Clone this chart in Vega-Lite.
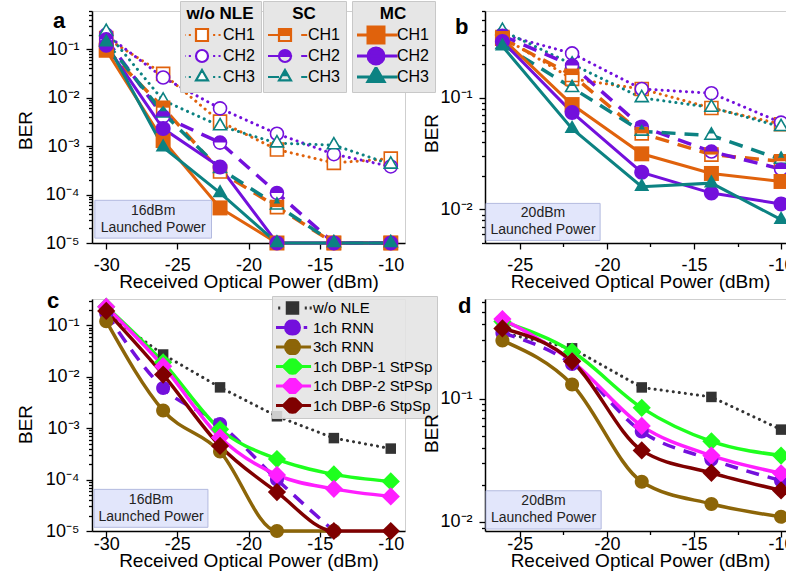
{
"$schema": "https://vega.github.io/schema/vega-lite/v6.json",
"background": "white",
"padding": {"left": 15, "top": 0, "right": 0, "bottom": 0},
"bounds": "flush",
"columns": 2,
"spacing": {"row": 56, "column": 80},
"resolve": {"scale": {"color": "independent", "shape": "independent", "fill": "independent", "stroke": "independent"}},
"config": {
  "font": "Liberation Sans",
  "view": {"stroke": "#cfcfcf"},
  "axis": {"labelFont": "Liberation Sans", "labelFontSize": 18, "labelColor": "#000", "titleFont": "Liberation Sans", "titleFontSize": 19, "titleFontWeight": "normal", "titleColor": "#000", "domainColor": "#000", "domainWidth": 1.5, "tickColor": "#000", "tickWidth": 1.3, "gridWidth": 1, "labelOverlap": false, "labelFlush": false, "labelBound": false},
  "legend": {"labelFont": "Liberation Sans", "titleFont": "Liberation Sans", "labelColor": "#000", "titleColor": "#000"}
},
"datasets": {
  "a": [
    {"group":"w/o NLE","ch":"CH1","power":-30,"ber":0.17},{"group":"w/o NLE","ch":"CH1","power":-26,"ber":0.031},{"group":"w/o NLE","ch":"CH1","power":-22,"ber":0.0032},{"group":"w/o NLE","ch":"CH1","power":-18,"ber":0.00085},{"group":"w/o NLE","ch":"CH1","power":-14,"ber":0.00045},{"group":"w/o NLE","ch":"CH1","power":-10,"ber":0.00055},
    {"group":"w/o NLE","ch":"CH2","power":-30,"ber":0.2},{"group":"w/o NLE","ch":"CH2","power":-26,"ber":0.026},{"group":"w/o NLE","ch":"CH2","power":-22,"ber":0.006},{"group":"w/o NLE","ch":"CH2","power":-18,"ber":0.0018},{"group":"w/o NLE","ch":"CH2","power":-14,"ber":0.00068},{"group":"w/o NLE","ch":"CH2","power":-10,"ber":0.00038},
    {"group":"w/o NLE","ch":"CH3","power":-30,"ber":0.23},{"group":"w/o NLE","ch":"CH3","power":-26,"ber":0.0088},{"group":"w/o NLE","ch":"CH3","power":-22,"ber":0.0026},{"group":"w/o NLE","ch":"CH3","power":-18,"ber":0.00115},{"group":"w/o NLE","ch":"CH3","power":-14,"ber":0.00105},{"group":"w/o NLE","ch":"CH3","power":-10,"ber":0.00042},
    {"group":"SC","ch":"CH1","power":-30,"ber":0.1},{"group":"SC","ch":"CH1","power":-26,"ber":0.0062},{"group":"SC","ch":"CH1","power":-22,"ber":0.0003},{"group":"SC","ch":"CH1","power":-18,"ber":0.000055},{"group":"SC","ch":"CH1","power":-14,"ber":0.00001},{"group":"SC","ch":"CH1","power":-10,"ber":0.00001},
    {"group":"SC","ch":"CH2","power":-30,"ber":0.16},{"group":"SC","ch":"CH2","power":-26,"ber":0.0041},{"group":"SC","ch":"CH2","power":-22,"ber":0.00118},{"group":"SC","ch":"CH2","power":-18,"ber":0.000108},{"group":"SC","ch":"CH2","power":-14,"ber":0.00001},{"group":"SC","ch":"CH2","power":-10,"ber":0.00001},
    {"group":"SC","ch":"CH3","power":-30,"ber":0.14},{"group":"SC","ch":"CH3","power":-26,"ber":0.0048},{"group":"SC","ch":"CH3","power":-22,"ber":0.00034},{"group":"SC","ch":"CH3","power":-18,"ber":0.00006},{"group":"SC","ch":"CH3","power":-14,"ber":0.00001},{"group":"SC","ch":"CH3","power":-10,"ber":0.00001},
    {"group":"MC","ch":"CH1","power":-30,"ber":0.095},{"group":"MC","ch":"CH1","power":-26,"ber":0.0013},{"group":"MC","ch":"CH1","power":-22,"ber":0.000053},{"group":"MC","ch":"CH1","power":-18,"ber":0.00001},{"group":"MC","ch":"CH1","power":-14,"ber":0.00001},{"group":"MC","ch":"CH1","power":-10,"ber":0.00001},
    {"group":"MC","ch":"CH2","power":-30,"ber":0.12},{"group":"MC","ch":"CH2","power":-26,"ber":0.0023},{"group":"MC","ch":"CH2","power":-22,"ber":0.00037},{"group":"MC","ch":"CH2","power":-18,"ber":0.00001},{"group":"MC","ch":"CH2","power":-14,"ber":0.00001},{"group":"MC","ch":"CH2","power":-10,"ber":0.00001},
    {"group":"MC","ch":"CH3","power":-30,"ber":0.14},{"group":"MC","ch":"CH3","power":-26,"ber":0.00095},{"group":"MC","ch":"CH3","power":-22,"ber":0.000108},{"group":"MC","ch":"CH3","power":-18,"ber":0.00001},{"group":"MC","ch":"CH3","power":-14,"ber":0.00001},{"group":"MC","ch":"CH3","power":-10,"ber":0.00001}
  ],
  "b": [
    {"group":"w/o NLE","ch":"CH1","power":-26,"ber":0.35},{"group":"w/o NLE","ch":"CH1","power":-22,"ber":0.148},{"group":"w/o NLE","ch":"CH1","power":-18,"ber":0.12},{"group":"w/o NLE","ch":"CH1","power":-14,"ber":0.081},{"group":"w/o NLE","ch":"CH1","power":-10,"ber":0.058},
    {"group":"w/o NLE","ch":"CH2","power":-26,"ber":0.37},{"group":"w/o NLE","ch":"CH2","power":-22,"ber":0.25},{"group":"w/o NLE","ch":"CH2","power":-18,"ber":0.12},{"group":"w/o NLE","ch":"CH2","power":-14,"ber":0.11},{"group":"w/o NLE","ch":"CH2","power":-10,"ber":0.06},
    {"group":"w/o NLE","ch":"CH3","power":-26,"ber":0.4},{"group":"w/o NLE","ch":"CH3","power":-22,"ber":0.2},{"group":"w/o NLE","ch":"CH3","power":-18,"ber":0.1},{"group":"w/o NLE","ch":"CH3","power":-14,"ber":0.082},{"group":"w/o NLE","ch":"CH3","power":-10,"ber":0.055},
    {"group":"SC","ch":"CH1","power":-26,"ber":0.34},{"group":"SC","ch":"CH1","power":-22,"ber":0.16},{"group":"SC","ch":"CH1","power":-18,"ber":0.048},{"group":"SC","ch":"CH1","power":-14,"ber":0.031},{"group":"SC","ch":"CH1","power":-10,"ber":0.027},
    {"group":"SC","ch":"CH2","power":-26,"ber":0.36},{"group":"SC","ch":"CH2","power":-22,"ber":0.195},{"group":"SC","ch":"CH2","power":-18,"ber":0.055},{"group":"SC","ch":"CH2","power":-14,"ber":0.033},{"group":"SC","ch":"CH2","power":-10,"ber":0.023},
    {"group":"SC","ch":"CH3","power":-26,"ber":0.3},{"group":"SC","ch":"CH3","power":-22,"ber":0.123},{"group":"SC","ch":"CH3","power":-18,"ber":0.05},{"group":"SC","ch":"CH3","power":-14,"ber":0.046},{"group":"SC","ch":"CH3","power":-10,"ber":0.028},
    {"group":"MC","ch":"CH1","power":-26,"ber":0.34},{"group":"MC","ch":"CH1","power":-22,"ber":0.087},{"group":"MC","ch":"CH1","power":-18,"ber":0.0315},{"group":"MC","ch":"CH1","power":-14,"ber":0.021},{"group":"MC","ch":"CH1","power":-10,"ber":0.0178},
    {"group":"MC","ch":"CH2","power":-26,"ber":0.32},{"group":"MC","ch":"CH2","power":-22,"ber":0.074},{"group":"MC","ch":"CH2","power":-18,"ber":0.0215},{"group":"MC","ch":"CH2","power":-14,"ber":0.014},{"group":"MC","ch":"CH2","power":-10,"ber":0.0112},
    {"group":"MC","ch":"CH3","power":-26,"ber":0.29},{"group":"MC","ch":"CH3","power":-22,"ber":0.053},{"group":"MC","ch":"CH3","power":-18,"ber":0.016},{"group":"MC","ch":"CH3","power":-14,"ber":0.0172},{"group":"MC","ch":"CH3","power":-10,"ber":0.0081}
  ],
  "c": [
    {"series":"w/o NLE","power":-30,"ber":0.17},{"series":"w/o NLE","power":-26,"ber":0.027},{"series":"w/o NLE","power":-22,"ber":0.0062},{"series":"w/o NLE","power":-18,"ber":0.0017},{"series":"w/o NLE","power":-14,"ber":0.00064},{"series":"w/o NLE","power":-10,"ber":0.0004},
    {"series":"1ch RNN","power":-30,"ber":0.17},{"series":"1ch RNN","power":-26,"ber":0.006},{"series":"1ch RNN","power":-22,"ber":0.0012},{"series":"1ch RNN","power":-18,"ber":0.0001},{"series":"1ch RNN","power":-14,"ber":0.00001},
    {"series":"3ch RNN","power":-30,"ber":0.12},{"series":"3ch RNN","power":-26,"ber":0.0022},{"series":"3ch RNN","power":-22,"ber":0.00035},{"series":"3ch RNN","power":-18,"ber":0.00001},{"series":"3ch RNN","power":-14,"ber":0.00001},
    {"series":"1ch DBP-1 StPSp","power":-30,"ber":0.23},{"series":"1ch DBP-1 StPSp","power":-26,"ber":0.019},{"series":"1ch DBP-1 StPSp","power":-22,"ber":0.00095},{"series":"1ch DBP-1 StPSp","power":-18,"ber":0.00025},{"series":"1ch DBP-1 StPSp","power":-14,"ber":0.000126},{"series":"1ch DBP-1 StPSp","power":-10,"ber":0.000092},
    {"series":"1ch DBP-2 StPSp","power":-30,"ber":0.23},{"series":"1ch DBP-2 StPSp","power":-26,"ber":0.016},{"series":"1ch DBP-2 StPSp","power":-22,"ber":0.00066},{"series":"1ch DBP-2 StPSp","power":-18,"ber":0.000123},{"series":"1ch DBP-2 StPSp","power":-14,"ber":0.000066},{"series":"1ch DBP-2 StPSp","power":-10,"ber":0.000047},
    {"series":"1ch DBP-6 StpSp","power":-30,"ber":0.19},{"series":"1ch DBP-6 StpSp","power":-26,"ber":0.011},{"series":"1ch DBP-6 StpSp","power":-22,"ber":0.00045},{"series":"1ch DBP-6 StpSp","power":-18,"ber":0.000057},{"series":"1ch DBP-6 StpSp","power":-14,"ber":0.00001},{"series":"1ch DBP-6 StpSp","power":-10,"ber":0.00001}
  ],
  "d": [
    {"series":"w/o NLE","power":-26,"ber":0.34},{"series":"w/o NLE","power":-22,"ber":0.255},{"series":"w/o NLE","power":-18,"ber":0.123},{"series":"w/o NLE","power":-14,"ber":0.103},{"series":"w/o NLE","power":-10,"ber":0.056},
    {"series":"1ch RNN","power":-26,"ber":0.34},{"series":"1ch RNN","power":-22,"ber":0.19},{"series":"1ch RNN","power":-18,"ber":0.054},{"series":"1ch RNN","power":-14,"ber":0.032},{"series":"1ch RNN","power":-10,"ber":0.0216},
    {"series":"3ch RNN","power":-26,"ber":0.295},{"series":"3ch RNN","power":-22,"ber":0.13},{"series":"3ch RNN","power":-18,"ber":0.0212},{"series":"3ch RNN","power":-14,"ber":0.014},{"series":"3ch RNN","power":-10,"ber":0.011},
    {"series":"1ch DBP-1 StPSp","power":-26,"ber":0.42},{"series":"1ch DBP-1 StPSp","power":-22,"ber":0.24},{"series":"1ch DBP-1 StPSp","power":-18,"ber":0.084},{"series":"1ch DBP-1 StPSp","power":-14,"ber":0.045},{"series":"1ch DBP-1 StPSp","power":-10,"ber":0.0345},
    {"series":"1ch DBP-2 StPSp","power":-26,"ber":0.44},{"series":"1ch DBP-2 StPSp","power":-22,"ber":0.2},{"series":"1ch DBP-2 StPSp","power":-18,"ber":0.06},{"series":"1ch DBP-2 StPSp","power":-14,"ber":0.0345},{"series":"1ch DBP-2 StPSp","power":-10,"ber":0.0248},
    {"series":"1ch DBP-6 StpSp","power":-26,"ber":0.37},{"series":"1ch DBP-6 StpSp","power":-22,"ber":0.2},{"series":"1ch DBP-6 StpSp","power":-18,"ber":0.038},{"series":"1ch DBP-6 StpSp","power":-14,"ber":0.025},{"series":"1ch DBP-6 StpSp","power":-10,"ber":0.018}
  ]
},
"concat": [
  {
   "width": 313, "height": 232,
   "resolve": {"scale": {"color": "independent", "shape": "independent", "fill": "independent", "stroke": "independent"}},
   "layer": [
    {"data": {"values": [{"note": "annotation"}]}, "mark": {"type": "rect", "fill": "#e2e6fb", "stroke": "#b3badf", "strokeWidth": 1},
     "encoding": {"x": {"datum": -30.8, "type": "quantitative", "scale": {"domain": [-31, -9], "nice": false, "zero": false}, "title": "Received Optical Power (dBm)"}, "x2": {"datum": -22.6}, "y": {"datum": 0.000076, "type": "quantitative", "scale": {"type": "log", "domain": [0.00001, 0.614], "nice": false}, "title": "BER"}, "y2": {"datum": 0.0000126}}},
    {"data": {"values": [{"note": "annotation"}]}, "mark": {"type": "text", "text": ["16dBm", "Launched Power"], "fontSize": 14, "lineHeight": 17, "font": "Liberation Sans", "color": "#222", "baseline": "middle", "align": "center"},
     "encoding": {"x": {"datum": -26.7, "type": "quantitative", "scale": {"domain": [-31, -9], "nice": false, "zero": false}, "title": "Received Optical Power (dBm)"}, "y": {"datum": 0.0000462, "type": "quantitative", "scale": {"type": "log", "domain": [0.00001, 0.614], "nice": false}, "title": "BER"}}},
    {"data": {"values": [{"note": "panel"}]}, "mark": {"type": "text", "text": "a", "fontSize": 22, "fontWeight": "bold", "font": "Liberation Sans", "color": "#000", "baseline": "alphabetic", "align": "left"},
     "encoding": {"x": {"datum": -33.74, "type": "quantitative", "scale": {"domain": [-31, -9], "nice": false, "zero": false}, "title": "Received Optical Power (dBm)"}, "y": {"datum": 0.274, "type": "quantitative", "scale": {"type": "log", "domain": [0.00001, 0.614], "nice": false}, "title": "BER"}}},
    {
     "data": {"name": "a"},
     "encoding": {
      "x": {"field": "power", "type": "quantitative", "scale": {"domain": [-31, -9], "nice": false, "zero": false},
        "axis": {"title": "Received Optical Power (dBm)", "values": [-30,-27.5,-25,-22.5,-20,-17.5,-15,-12.5,-10], "labelExpr": "datum.value % 5 == 0 ? '' + datum.value : ''", "tickSize": {"condition": {"test": "datum.value % 5 == 0", "value": 6}, "value": 3.5}, "gridDash": {"condition": {"test": "datum.value % 5 == 0", "value": []}, "value": [3,3]}, "gridColor": {"condition": {"test": "datum.value % 5 == 0", "value": "#b8b8b8"}, "value": "#e2e2e2"}, "labelPadding": 7, "titlePadding": -2}},
      "y": {"field": "ber", "type": "quantitative", "scale": {"type": "log", "domain": [0.00001, 0.614], "nice": false},
        "axis": {"title": "BER", "titleY": 119, "values": [0.00001,0.00002,0.00003,0.00004,0.00005,0.00006,0.00007,0.00008,0.00009,0.0001,0.0002,0.0003,0.0004,0.0005,0.0006,0.0007,0.0008,0.0009,0.001,0.002,0.003,0.004,0.005,0.006,0.007,0.008,0.009,0.01,0.02,0.03,0.04,0.05,0.06,0.07,0.08,0.09,0.1,0.2,0.3,0.4,0.5,0.6],
          "labelExpr": "datum.value == 0.1 ? '10⁻¹' : datum.value == 0.01 ? '10⁻²' : datum.value == 0.001 ? '10⁻³' : datum.value == 0.0001 ? '10⁻⁴' : datum.value == 0.00001 ? '10⁻⁵' : ''",
          "tickSize": {"condition": {"test": "indexof([0.1,0.01,0.001,0.0001,0.00001], datum.value) >= 0", "value": 6}, "value": 3.5},
          "gridDash": {"condition": {"test": "indexof([0.1,0.01,0.001,0.0001,0.00001], datum.value) >= 0", "value": []}, "value": [3,3]},
          "gridColor": {"condition": {"test": "indexof([0.1,0.01,0.001,0.0001,0.00001], datum.value) >= 0", "value": "#b8b8b8"}, "value": "#e2e2e2"},
          "labelPadding": 7, "titlePadding": 10}}
     },
     "layer": [
      {"transform": [{"filter": "datum.group == 'w/o NLE'"}], "mark": {"type": "line", "strokeDash": [0.1, 6], "strokeCap": "round", "strokeWidth": 3}, "encoding": {"color": {"field": "ch", "type": "nominal", "scale": {"domain": ["CH1","CH2","CH3"], "range": ["#E0620C","#7310DC","#0C8282"]}, "legend": null}}},
      {"transform": [{"filter": "datum.group == 'SC'"}], "mark": {"type": "line", "strokeDash": [14, 9], "strokeWidth": 3.5}, "encoding": {"color": {"field": "ch", "type": "nominal", "scale": {"domain": ["CH1","CH2","CH3"], "range": ["#E0620C","#7310DC","#0C8282"]}, "legend": null}}},
      {"transform": [{"filter": "datum.group == 'MC'"}], "mark": {"type": "line", "strokeWidth": 3}, "encoding": {"color": {"field": "ch", "type": "nominal", "scale": {"domain": ["CH1","CH2","CH3"], "range": ["#E0620C","#7310DC","#0C8282"]}, "legend": null}}},
      {"transform": [{"filter": "datum.group == 'w/o NLE'"}], "mark": {"type": "point", "fill": "white", "strokeWidth": 1.6, "opacity": 1, "size": 169}, "encoding": {"color": {"field": "ch", "type": "nominal", "scale": {"domain": ["CH1","CH2","CH3"], "range": ["#E0620C","#7310DC","#0C8282"]}, "legend": null}, "shape": {"field": "ch", "type": "nominal", "scale": {"domain": ["CH1","CH2","CH3"], "range": ["M-1,-1H1V1H-1Z","M-1,0A1,1 0 1 1 1,0A1,1 0 1 1 -1,0Z","M0,-1.155L1,0.577H-1Z"]}, "legend": null}}},
      {"transform": [{"filter": "datum.group == 'SC'"}], "mark": {"type": "point", "fill": "white", "strokeWidth": 1.6, "opacity": 1, "size": 169}, "encoding": {"color": {"field": "ch", "type": "nominal", "scale": {"domain": ["CH1","CH2","CH3"], "range": ["#E0620C","#7310DC","#0C8282"]}, "legend": null}, "shape": {"field": "ch", "type": "nominal", "scale": {"domain": ["CH1","CH2","CH3"], "range": ["M-1,-1H1V1H-1Z","M-1,0A1,1 0 1 1 1,0A1,1 0 1 1 -1,0Z","M0,-1.155L1,0.577H-1Z"]}, "legend": null}}},
      {"transform": [{"filter": "datum.group == 'SC'"}], "mark": {"type": "point", "filled": true, "strokeWidth": 0, "opacity": 1, "size": 169}, "encoding": {"color": {"field": "ch", "type": "nominal", "scale": {"domain": ["CH1","CH2","CH3"], "range": ["#E0620C","#7310DC","#0C8282"]}, "legend": null}, "shape": {"field": "ch", "type": "nominal", "scale": {"domain": ["CH1","CH2","CH3"], "range": ["M-1,-1H1V0H-1Z","M-1,0A1,1 0 0 1 1,0Z","M0,-1.155L0.5,-0.289H-0.5Z"]}, "legend": null}}},
      {"transform": [{"filter": "datum.group == 'MC'"}], "mark": {"type": "point", "filled": true, "opacity": 1, "size": 225}, "encoding": {"color": {"field": "ch", "type": "nominal", "scale": {"domain": ["CH1","CH2","CH3"], "range": ["#E0620C","#7310DC","#0C8282"]}, "legend": null}, "shape": {"field": "ch", "type": "nominal", "scale": {"domain": ["CH1","CH2","CH3"], "range": ["M-1,-1H1V1H-1Z","M-1,0A1,1 0 1 1 1,0A1,1 0 1 1 -1,0Z","M0,-1.155L1,0.577H-1Z"]}, "legend": null}}},
      {"transform": [{"filter": "datum.group == 'w/o NLE'"}], "mark": {"type": "point", "fill": "white", "opacity": 0, "size": 144, "strokeWidth": 2.2},
       "encoding": {
        "stroke": {"field": "ch", "type": "nominal", "scale": {"domain": ["CH1","CH2","CH3"], "range": ["#E0620C","#7310DC","#0C8282"]},
          "legend": {"title": "w/o NLE", "orient": "none", "legendX": 88, "legendY": -10, "titleAnchor": "middle", "titleFontSize": 17, "titleFontWeight": "bold", "titlePadding": 2, "labelFontSize": 16, "fillColor": "#e6e6e6", "strokeColor": "#c8c8c8", "padding": 5, "rowPadding": 1, "clipHeight": 20, "symbolSize": 144, "symbolStrokeWidth": 2.2, "symbolOffset": 9, "labelOffset": 13, "symbolOpacity": 1}},
        "shape": {"field": "ch", "type": "nominal", "scale": {"domain": ["CH1","CH2","CH3"], "range": ["M-3.1,0h0.35M-2.2,0h0.35M1.85,0h0.35M2.75,0h0.35M-1,-1H1V1H-1Z","M-3.1,0h0.35M-2.2,0h0.35M1.85,0h0.35M2.75,0h0.35M-1,0A1,1 0 1 1 1,0A1,1 0 1 1 -1,0Z","M-3.1,0h0.35M-2.2,0h0.35M1.85,0h0.35M2.75,0h0.35M0,-1.155L1,0.577H-1Z"]},
          "legend": {"title": "w/o NLE", "orient": "none", "legendX": 88, "legendY": -10, "titleAnchor": "middle", "titleFontSize": 17, "titleFontWeight": "bold", "titlePadding": 2, "labelFontSize": 16, "fillColor": "#e6e6e6", "strokeColor": "#c8c8c8", "padding": 5, "rowPadding": 1, "clipHeight": 20, "symbolSize": 144, "symbolStrokeWidth": 2.2, "symbolOffset": 9, "labelOffset": 13, "symbolOpacity": 1}}
       }},
      {"transform": [{"filter": "datum.group == 'SC'"}], "mark": {"type": "point", "filled": true, "opacity": 0, "size": 144, "strokeWidth": 2.2},
       "encoding": {
        "fill": {"field": "ch", "type": "nominal", "scale": {"domain": ["CH1","CH2","CH3"], "range": ["#E0620C","#7310DC","#0C8282"]},
          "legend": {"title": "SC", "orient": "none", "legendX": 171, "legendY": -10, "titleAnchor": "middle", "titleFontSize": 17, "titleFontWeight": "bold", "titlePadding": 2, "labelFontSize": 16, "fillColor": "#e6e6e6", "strokeColor": "#c8c8c8", "padding": 5, "rowPadding": 1, "clipHeight": 20, "symbolSize": 144, "symbolStrokeWidth": 2.2, "symbolOffset": 9, "labelOffset": 15, "symbolOpacity": 1}},
        "stroke": {"field": "ch", "type": "nominal", "scale": {"domain": ["CH1","CH2","CH3"], "range": ["#E0620C","#7310DC","#0C8282"]},
          "legend": {"title": "SC", "orient": "none", "legendX": 171, "legendY": -10, "titleAnchor": "middle", "titleFontSize": 17, "titleFontWeight": "bold", "titlePadding": 2, "labelFontSize": 16, "fillColor": "#e6e6e6", "strokeColor": "#c8c8c8", "padding": 5, "rowPadding": 1, "clipHeight": 20, "symbolSize": 144, "symbolStrokeWidth": 2.2, "symbolOffset": 9, "labelOffset": 15, "symbolOpacity": 1}},
        "shape": {"field": "ch", "type": "nominal", "scale": {"domain": ["CH1","CH2","CH3"], "range": ["M-3,0H-1M2.7,0H3.7M-1,-1H1V0H-1ZM-1,0H1V1H-1ZM-1,0V1H1V0Z","M-3,0H-1M2.7,0H3.7M-1,0A1,1 0 0 1 1,0ZM-1,0A1,1 0 0 0 1,0ZM1,0A1,1 0 0 1 -1,0Z","M-3,0H-1M2.7,0H3.7M0,-1.155L0.5,-0.289H-0.5ZM-0.5,-0.289H0.5L1,0.577H-1ZM-0.5,-0.289L-1,0.577H1L0.5,-0.289Z"]},
          "legend": {"title": "SC", "orient": "none", "legendX": 171, "legendY": -10, "titleAnchor": "middle", "titleFontSize": 17, "titleFontWeight": "bold", "titlePadding": 2, "labelFontSize": 16, "fillColor": "#e6e6e6", "strokeColor": "#c8c8c8", "padding": 5, "rowPadding": 1, "clipHeight": 20, "symbolSize": 144, "symbolStrokeWidth": 2.2, "symbolOffset": 9, "labelOffset": 15, "symbolOpacity": 1}}
       }},
      {"transform": [{"filter": "datum.group == 'MC'"}], "mark": {"type": "point", "filled": true, "opacity": 0, "size": 256, "strokeWidth": 3},
       "encoding": {
        "fill": {"field": "ch", "type": "nominal", "scale": {"domain": ["CH1","CH2","CH3"], "range": ["#E0620C","#7310DC","#0C8282"]},
          "legend": {"title": "MC", "orient": "none", "legendX": 260, "legendY": -10, "titleAnchor": "middle", "titleFontSize": 17, "titleFontWeight": "bold", "titlePadding": 2, "labelFontSize": 16, "fillColor": "#e6e6e6", "strokeColor": "#c8c8c8", "padding": 5, "rowPadding": 1, "clipHeight": 20, "symbolSize": 256, "symbolStrokeWidth": 3, "symbolOffset": 9.5, "labelOffset": 11.5, "symbolOpacity": 1}},
        "stroke": {"field": "ch", "type": "nominal", "scale": {"domain": ["CH1","CH2","CH3"], "range": ["#E0620C","#7310DC","#0C8282"]},
          "legend": {"title": "MC", "orient": "none", "legendX": 260, "legendY": -10, "titleAnchor": "middle", "titleFontSize": 17, "titleFontWeight": "bold", "titlePadding": 2, "labelFontSize": 16, "fillColor": "#e6e6e6", "strokeColor": "#c8c8c8", "padding": 5, "rowPadding": 1, "clipHeight": 20, "symbolSize": 256, "symbolStrokeWidth": 3, "symbolOffset": 9.5, "labelOffset": 11.5, "symbolOpacity": 1}},
        "shape": {"field": "ch", "type": "nominal", "scale": {"domain": ["CH1","CH2","CH3"], "range": ["M-2.7,0H2.7M-1,-1H1V1H-1Z","M-2.7,0H2.7M-1,0A1,1 0 1 1 1,0A1,1 0 1 1 -1,0Z","M-2.7,0H2.7M0,-1.155L1,0.577H-1Z"]},
          "legend": {"title": "MC", "orient": "none", "legendX": 260, "legendY": -10, "titleAnchor": "middle", "titleFontSize": 17, "titleFontWeight": "bold", "titlePadding": 2, "labelFontSize": 16, "fillColor": "#e6e6e6", "strokeColor": "#c8c8c8", "padding": 5, "rowPadding": 1, "clipHeight": 20, "symbolSize": 256, "symbolStrokeWidth": 3, "symbolOffset": 9.5, "labelOffset": 11.5, "symbolOpacity": 1}}
       }}
     ],
     "resolve": {"scale": {"shape": "independent", "fill": "independent", "stroke": "independent"}}
    }
   ]
  },
  {
   "width": 310, "height": 232,
   "resolve": {"scale": {"color": "independent", "shape": "independent"}},
   "layer": [
    {"data": {"values": [{"note": "annotation"}]}, "mark": {"type": "rect", "fill": "#e2e6fb", "stroke": "#b3badf", "strokeWidth": 1},
     "encoding": {"x": {"datum": -26.94, "type": "quantitative", "scale": {"domain": [-27, -9.2], "nice": false, "zero": false}, "title": "Received Optical Power (dBm)"}, "x2": {"datum": -20.39}, "y": {"datum": 0.01132, "type": "quantitative", "scale": {"type": "log", "domain": [0.005, 0.6], "nice": false}, "title": "BER"}, "y2": {"datum": 0.00527}}},
    {"data": {"values": [{"note": "annotation"}]}, "mark": {"type": "text", "text": ["20dBm", "Launched Power"], "fontSize": 14, "lineHeight": 17, "font": "Liberation Sans", "color": "#222", "baseline": "middle", "align": "center"},
     "encoding": {"x": {"datum": -23.67, "type": "quantitative", "scale": {"domain": [-27, -9.2], "nice": false, "zero": false}, "title": "Received Optical Power (dBm)"}, "y": {"datum": 0.0092, "type": "quantitative", "scale": {"type": "log", "domain": [0.005, 0.6], "nice": false}, "title": "BER"}}},
    {"data": {"values": [{"note": "panel"}]}, "mark": {"type": "text", "text": "b", "fontSize": 22, "fontWeight": "bold", "font": "Liberation Sans", "color": "#000", "baseline": "alphabetic", "align": "left"},
     "encoding": {"x": {"datum": -28.72, "type": "quantitative", "scale": {"domain": [-27, -9.2], "nice": false, "zero": false}, "title": "Received Optical Power (dBm)"}, "y": {"datum": 0.373, "type": "quantitative", "scale": {"type": "log", "domain": [0.005, 0.6], "nice": false}, "title": "BER"}}},
    {
     "data": {"name": "b"},
     "encoding": {
      "x": {"field": "power", "type": "quantitative", "scale": {"domain": [-27, -9.2], "nice": false, "zero": false},
        "axis": {"title": "Received Optical Power (dBm)", "values": [-25,-22.5,-20,-17.5,-15,-12.5,-10], "labelExpr": "datum.value % 5 == 0 ? '' + datum.value : ''", "tickSize": {"condition": {"test": "datum.value % 5 == 0", "value": 6}, "value": 3.5}, "gridDash": {"condition": {"test": "datum.value % 5 == 0", "value": []}, "value": [3,3]}, "gridColor": {"condition": {"test": "datum.value % 5 == 0", "value": "#b8b8b8"}, "value": "#e2e2e2"}, "labelPadding": 7, "titlePadding": -2}},
      "y": {"field": "ber", "type": "quantitative", "scale": {"type": "log", "domain": [0.005, 0.6], "nice": false},
        "axis": {"title": "BER", "titleY": 122, "values": [0.005,0.006,0.007,0.008,0.009,0.01,0.02,0.03,0.04,0.05,0.06,0.07,0.08,0.09,0.1,0.2,0.3,0.4,0.5,0.6],
          "labelExpr": "datum.value == 0.1 ? '10⁻¹' : datum.value == 0.01 ? '10⁻²' : ''",
          "tickSize": {"condition": {"test": "indexof([0.1,0.01], datum.value) >= 0", "value": 6}, "value": 3.5},
          "gridDash": {"condition": {"test": "indexof([0.1,0.01], datum.value) >= 0", "value": []}, "value": [3,3]},
          "gridColor": {"condition": {"test": "indexof([0.1,0.01], datum.value) >= 0", "value": "#b8b8b8"}, "value": "#e2e2e2"},
          "labelPadding": 7, "titlePadding": -2}}
     },
     "layer": [
      {"transform": [{"filter": "datum.group == 'w/o NLE'"}], "mark": {"type": "line", "strokeDash": [0.1, 6], "strokeCap": "round", "strokeWidth": 3}, "encoding": {"color": {"field": "ch", "type": "nominal", "scale": {"domain": ["CH1","CH2","CH3"], "range": ["#E0620C","#7310DC","#0C8282"]}, "legend": null}}},
      {"transform": [{"filter": "datum.group == 'SC'"}], "mark": {"type": "line", "strokeDash": [14, 9], "strokeWidth": 3.5}, "encoding": {"color": {"field": "ch", "type": "nominal", "scale": {"domain": ["CH1","CH2","CH3"], "range": ["#E0620C","#7310DC","#0C8282"]}, "legend": null}}},
      {"transform": [{"filter": "datum.group == 'MC'"}], "mark": {"type": "line", "strokeWidth": 3}, "encoding": {"color": {"field": "ch", "type": "nominal", "scale": {"domain": ["CH1","CH2","CH3"], "range": ["#E0620C","#7310DC","#0C8282"]}, "legend": null}}},
      {"transform": [{"filter": "datum.group == 'w/o NLE'"}], "mark": {"type": "point", "fill": "white", "strokeWidth": 1.6, "opacity": 1, "size": 169}, "encoding": {"color": {"field": "ch", "type": "nominal", "scale": {"domain": ["CH1","CH2","CH3"], "range": ["#E0620C","#7310DC","#0C8282"]}, "legend": null}, "shape": {"field": "ch", "type": "nominal", "scale": {"domain": ["CH1","CH2","CH3"], "range": ["M-1,-1H1V1H-1Z","M-1,0A1,1 0 1 1 1,0A1,1 0 1 1 -1,0Z","M0,-1.155L1,0.577H-1Z"]}, "legend": null}}},
      {"transform": [{"filter": "datum.group == 'SC'"}], "mark": {"type": "point", "fill": "white", "strokeWidth": 1.6, "opacity": 1, "size": 169}, "encoding": {"color": {"field": "ch", "type": "nominal", "scale": {"domain": ["CH1","CH2","CH3"], "range": ["#E0620C","#7310DC","#0C8282"]}, "legend": null}, "shape": {"field": "ch", "type": "nominal", "scale": {"domain": ["CH1","CH2","CH3"], "range": ["M-1,-1H1V1H-1Z","M-1,0A1,1 0 1 1 1,0A1,1 0 1 1 -1,0Z","M0,-1.155L1,0.577H-1Z"]}, "legend": null}}},
      {"transform": [{"filter": "datum.group == 'SC'"}], "mark": {"type": "point", "filled": true, "strokeWidth": 0, "opacity": 1, "size": 169}, "encoding": {"color": {"field": "ch", "type": "nominal", "scale": {"domain": ["CH1","CH2","CH3"], "range": ["#E0620C","#7310DC","#0C8282"]}, "legend": null}, "shape": {"field": "ch", "type": "nominal", "scale": {"domain": ["CH1","CH2","CH3"], "range": ["M-1,-1H1V0H-1Z","M-1,0A1,1 0 0 1 1,0Z","M0,-1.155L0.5,-0.289H-0.5Z"]}, "legend": null}}},
      {"transform": [{"filter": "datum.group == 'MC'"}], "mark": {"type": "point", "filled": true, "opacity": 1, "size": 225}, "encoding": {"color": {"field": "ch", "type": "nominal", "scale": {"domain": ["CH1","CH2","CH3"], "range": ["#E0620C","#7310DC","#0C8282"]}, "legend": null}, "shape": {"field": "ch", "type": "nominal", "scale": {"domain": ["CH1","CH2","CH3"], "range": ["M-1,-1H1V1H-1Z","M-1,0A1,1 0 1 1 1,0A1,1 0 1 1 -1,0Z","M0,-1.155L1,0.577H-1Z"]}, "legend": null}}}
     ],
     "resolve": {"scale": {"shape": "independent"}}
    }
   ]
  },
  {
   "width": 313, "height": 232,
   "resolve": {"scale": {"color": "independent", "shape": "independent", "fill": "independent", "stroke": "independent"}},
   "layer": [
    {"data": {"values": [{"note": "annotation"}]}, "mark": {"type": "rect", "fill": "#e2e6fb", "stroke": "#b3badf", "strokeWidth": 1},
     "encoding": {"x": {"datum": -30.86, "type": "quantitative", "scale": {"domain": [-31, -9], "nice": false, "zero": false}, "title": "Received Optical Power (dBm)"}, "x2": {"datum": -22.85}, "y": {"datum": 0.0000645, "type": "quantitative", "scale": {"type": "log", "domain": [0.00001, 0.324], "nice": false}, "title": "BER"}, "y2": {"datum": 0.0000118}}},
    {"data": {"values": [{"note": "annotation"}]}, "mark": {"type": "text", "text": ["16dBm", "Launched Power"], "fontSize": 14, "lineHeight": 17, "font": "Liberation Sans", "color": "#222", "baseline": "middle", "align": "center"},
     "encoding": {"x": {"datum": -26.85, "type": "quantitative", "scale": {"domain": [-31, -9], "nice": false, "zero": false}, "title": "Received Optical Power (dBm)"}, "y": {"datum": 0.0000402, "type": "quantitative", "scale": {"type": "log", "domain": [0.00001, 0.324], "nice": false}, "title": "BER"}}},
    {"data": {"values": [{"note": "panel"}]}, "mark": {"type": "text", "text": "c", "fontSize": 22, "fontWeight": "bold", "font": "Liberation Sans", "color": "#000", "baseline": "alphabetic", "align": "left"},
     "encoding": {"x": {"datum": -34.16, "type": "quantitative", "scale": {"domain": [-31, -9], "nice": false, "zero": false}, "title": "Received Optical Power (dBm)"}, "y": {"datum": 0.217, "type": "quantitative", "scale": {"type": "log", "domain": [0.00001, 0.324], "nice": false}, "title": "BER"}}},
    {
     "data": {"name": "c"},
     "encoding": {
      "x": {"field": "power", "type": "quantitative", "scale": {"domain": [-31, -9], "nice": false, "zero": false},
        "axis": {"title": "Received Optical Power (dBm)", "values": [-30,-27.5,-25,-22.5,-20,-17.5,-15,-12.5,-10], "labelExpr": "datum.value % 5 == 0 ? '' + datum.value : ''", "tickSize": {"condition": {"test": "datum.value % 5 == 0", "value": 6}, "value": 3.5}, "gridDash": {"condition": {"test": "datum.value % 5 == 0", "value": []}, "value": [3,3]}, "gridColor": {"condition": {"test": "datum.value % 5 == 0", "value": "#b8b8b8"}, "value": "#e2e2e2"}, "labelPadding": -2, "titlePadding": -2}},
      "y": {"field": "ber", "type": "quantitative", "scale": {"type": "log", "domain": [0.00001, 0.324], "nice": false},
        "axis": {"title": "BER", "titleY": 125, "values": [0.00001,0.00002,0.00003,0.00004,0.00005,0.00006,0.00007,0.00008,0.00009,0.0001,0.0002,0.0003,0.0004,0.0005,0.0006,0.0007,0.0008,0.0009,0.001,0.002,0.003,0.004,0.005,0.006,0.007,0.008,0.009,0.01,0.02,0.03,0.04,0.05,0.06,0.07,0.08,0.09,0.1,0.2,0.3],
          "labelExpr": "datum.value == 0.1 ? '10⁻¹' : datum.value == 0.01 ? '10⁻²' : datum.value == 0.001 ? '10⁻³' : datum.value == 0.0001 ? '10⁻⁴' : datum.value == 0.00001 ? '10⁻⁵' : ''",
          "tickSize": {"condition": {"test": "indexof([0.1,0.01,0.001,0.0001,0.00001], datum.value) >= 0", "value": 6}, "value": 3.5},
          "gridDash": {"condition": {"test": "indexof([0.1,0.01,0.001,0.0001,0.00001], datum.value) >= 0", "value": []}, "value": [3,3]},
          "gridColor": {"condition": {"test": "indexof([0.1,0.01,0.001,0.0001,0.00001], datum.value) >= 0", "value": "#b8b8b8"}, "value": "#e2e2e2"},
          "labelPadding": 7, "titlePadding": 10}}
     },
     "layer": [
      {"transform": [{"filter": "datum.series == 'w/o NLE'"}], "mark": {"type": "line", "color": "#333333", "strokeDash": [0.1, 6], "strokeCap": "round", "strokeWidth": 3}},
      {"transform": [{"filter": "datum.series == '1ch RNN'"}], "mark": {"type": "line", "color": "#7310DC", "strokeDash": [13, 9], "strokeWidth": 3.5, "interpolate": "monotone"}},
      {"transform": [{"filter": "datum.series != 'w/o NLE' && datum.series != '1ch RNN'"}], "mark": {"type": "line", "strokeWidth": 3.5, "interpolate": "monotone"}, "encoding": {"color": {"field": "series", "type": "nominal", "scale": {"domain": ["w/o NLE","1ch RNN","3ch RNN","1ch DBP-1 StPSp","1ch DBP-2 StPSp","1ch DBP-6 StpSp"], "range": ["#333333","#7310DC","#8C6508","#1EFF1E","#FF1EFF","#7F0000"]}, "legend": null}}},
      {"mark": {"type": "point", "filled": true, "opacity": 1, "size": 196}, "encoding": {"color": {"field": "series", "type": "nominal", "scale": {"domain": ["w/o NLE","1ch RNN","3ch RNN","1ch DBP-1 StPSp","1ch DBP-2 StPSp","1ch DBP-6 StpSp"], "range": ["#333333","#7310DC","#8C6508","#1EFF1E","#FF1EFF","#7F0000"]}, "legend": null}, "shape": {"field": "series", "type": "nominal", "scale": {"domain": ["w/o NLE","1ch RNN","3ch RNN","1ch DBP-1 StPSp","1ch DBP-2 StPSp","1ch DBP-6 StpSp"], "range": ["M-0.75,-0.75H0.75V0.75H-0.75Z","M-1,0A1,1 0 1 1 1,0A1,1 0 1 1 -1,0Z","M-1,0A1,1 0 1 1 1,0A1,1 0 1 1 -1,0Z","M-1.3,0L0,-1.3L1.3,0L0,1.3Z","M-1.3,0L0,-1.3L1.3,0L0,1.3Z","M-1.3,0L0,-1.3L1.3,0L0,1.3Z"]}, "legend": null}}},
      {"mark": {"type": "point", "filled": true, "opacity": 0, "size": 196, "strokeWidth": 3},
       "encoding": {
        "fill": {"field": "series", "type": "nominal", "scale": {"domain": ["w/o NLE","1ch RNN","3ch RNN","1ch DBP-1 StPSp","1ch DBP-2 StPSp","1ch DBP-6 StpSp"], "range": ["#333333","#7310DC","#8C6508","#1EFF1E","#FF1EFF","#7F0000"]},
          "legend": {"title": null, "orient": "none", "legendX": 180, "legendY": -3, "fillColor": "rgba(228,228,228,0.88)", "strokeColor": "#c8c8c8", "padding": 4, "rowPadding": 3.5, "clipHeight": 16, "labelFontSize": 15, "symbolSize": 196, "symbolStrokeWidth": 3, "symbolOffset": 8, "labelOffset": 12, "symbolOpacity": 1}},
        "stroke": {"field": "series", "type": "nominal", "scale": {"domain": ["w/o NLE","1ch RNN","3ch RNN","1ch DBP-1 StPSp","1ch DBP-2 StPSp","1ch DBP-6 StpSp"], "range": ["#333333","#7310DC","#8C6508","#1EFF1E","#FF1EFF","#7F0000"]},
          "legend": {"title": null, "orient": "none", "legendX": 180, "legendY": -3, "fillColor": "rgba(228,228,228,0.88)", "strokeColor": "#c8c8c8", "padding": 4, "rowPadding": 3.5, "clipHeight": 16, "labelFontSize": 15, "symbolSize": 196, "symbolStrokeWidth": 3, "symbolOffset": 8, "labelOffset": 12, "symbolOpacity": 1}},
        "shape": {"field": "series", "type": "nominal", "scale": {"domain": ["w/o NLE","1ch RNN","3ch RNN","1ch DBP-1 StPSp","1ch DBP-2 StPSp","1ch DBP-6 StpSp"], "range": ["M-2.75,0h0.3M-2.05,0h0.3M1.75,0h0.3M2.45,0h0.3M-0.75,-0.75H0.75V0.75H-0.75Z","M-2.65,0H-1M1.6,0H2.1M-1,0A1,1 0 1 1 1,0A1,1 0 1 1 -1,0Z","M-2.65,0H2.65M-1,0A1,1 0 1 1 1,0A1,1 0 1 1 -1,0Z","M-2.65,0H2.65M-1.3,0L0,-1.3L1.3,0L0,1.3Z","M-2.65,0H2.65M-1.3,0L0,-1.3L1.3,0L0,1.3Z","M-2.65,0H2.65M-1.3,0L0,-1.3L1.3,0L0,1.3Z"]},
          "legend": {"title": null, "orient": "none", "legendX": 180, "legendY": -3, "fillColor": "rgba(228,228,228,0.88)", "strokeColor": "#c8c8c8", "padding": 4, "rowPadding": 3.5, "clipHeight": 16, "labelFontSize": 15, "symbolSize": 196, "symbolStrokeWidth": 3, "symbolOffset": 8, "labelOffset": 12, "symbolOpacity": 1}}
       }}
     ],
     "resolve": {"scale": {"shape": "independent", "fill": "independent", "stroke": "independent"}}
    }
   ]
  },
  {
   "width": 310, "height": 232,
   "resolve": {"scale": {"color": "independent", "shape": "independent"}},
   "layer": [
    {"data": {"values": [{"note": "annotation"}]}, "mark": {"type": "rect", "fill": "#e2e6fb", "stroke": "#b3badf", "strokeWidth": 1},
     "encoding": {"x": {"datum": -26.94, "type": "quantitative", "scale": {"domain": [-27, -9.2], "nice": false, "zero": false}, "title": "Received Optical Power (dBm)"}, "x2": {"datum": -20.33}, "y": {"datum": 0.0179, "type": "quantitative", "scale": {"type": "log", "domain": [0.00845, 0.64], "nice": false}, "title": "BER"}, "y2": {"datum": 0.00877}}},
    {"data": {"values": [{"note": "annotation"}]}, "mark": {"type": "text", "text": ["20dBm", "Launched Power"], "fontSize": 14, "lineHeight": 17, "font": "Liberation Sans", "color": "#222", "baseline": "middle", "align": "center"},
     "encoding": {"x": {"datum": -23.64, "type": "quantitative", "scale": {"domain": [-27, -9.2], "nice": false, "zero": false}, "title": "Received Optical Power (dBm)"}, "y": {"datum": 0.01476, "type": "quantitative", "scale": {"type": "log", "domain": [0.00845, 0.64], "nice": false}, "title": "BER"}}},
    {"data": {"values": [{"note": "panel"}]}, "mark": {"type": "text", "text": "d", "fontSize": 22, "fontWeight": "bold", "font": "Liberation Sans", "color": "#000", "baseline": "alphabetic", "align": "left"},
     "encoding": {"x": {"datum": -28.55, "type": "quantitative", "scale": {"domain": [-27, -9.2], "nice": false, "zero": false}, "title": "Received Optical Power (dBm)"}, "y": {"datum": 0.493, "type": "quantitative", "scale": {"type": "log", "domain": [0.00845, 0.64], "nice": false}, "title": "BER"}}},
    {
     "data": {"name": "d"},
     "encoding": {
      "x": {"field": "power", "type": "quantitative", "scale": {"domain": [-27, -9.2], "nice": false, "zero": false},
        "axis": {"title": "Received Optical Power (dBm)", "values": [-25,-22.5,-20,-17.5,-15,-12.5,-10], "labelExpr": "datum.value % 5 == 0 ? '' + datum.value : ''", "tickSize": {"condition": {"test": "datum.value % 5 == 0", "value": 6}, "value": 3.5}, "gridDash": {"condition": {"test": "datum.value % 5 == 0", "value": []}, "value": [3,3]}, "gridColor": {"condition": {"test": "datum.value % 5 == 0", "value": "#b8b8b8"}, "value": "#e2e2e2"}, "labelPadding": -2, "titlePadding": -2}},
      "y": {"field": "ber", "type": "quantitative", "scale": {"type": "log", "domain": [0.00845, 0.64], "nice": false},
        "axis": {"title": "BER", "titleY": 134, "values": [0.009,0.01,0.02,0.03,0.04,0.05,0.06,0.07,0.08,0.09,0.1,0.2,0.3,0.4,0.5,0.6],
          "labelExpr": "datum.value == 0.1 ? '10⁻¹' : datum.value == 0.01 ? '10⁻²' : ''",
          "tickSize": {"condition": {"test": "indexof([0.1,0.01], datum.value) >= 0", "value": 6}, "value": 3.5},
          "gridDash": {"condition": {"test": "indexof([0.1,0.01], datum.value) >= 0", "value": []}, "value": [3,3]},
          "gridColor": {"condition": {"test": "indexof([0.1,0.01], datum.value) >= 0", "value": "#b8b8b8"}, "value": "#e2e2e2"},
          "labelPadding": 7, "titlePadding": -2}}
     },
     "layer": [
      {"transform": [{"filter": "datum.series == 'w/o NLE'"}], "mark": {"type": "line", "color": "#333333", "strokeDash": [0.1, 6], "strokeCap": "round", "strokeWidth": 3}},
      {"transform": [{"filter": "datum.series == '1ch RNN'"}], "mark": {"type": "line", "color": "#7310DC", "strokeDash": [13, 9], "strokeWidth": 3.5, "interpolate": "monotone"}},
      {"transform": [{"filter": "datum.series != 'w/o NLE' && datum.series != '1ch RNN'"}], "mark": {"type": "line", "strokeWidth": 3.5, "interpolate": "monotone"}, "encoding": {"color": {"field": "series", "type": "nominal", "scale": {"domain": ["w/o NLE","1ch RNN","3ch RNN","1ch DBP-1 StPSp","1ch DBP-2 StPSp","1ch DBP-6 StpSp"], "range": ["#333333","#7310DC","#8C6508","#1EFF1E","#FF1EFF","#7F0000"]}, "legend": null}}},
      {"mark": {"type": "point", "filled": true, "opacity": 1, "size": 196}, "encoding": {"color": {"field": "series", "type": "nominal", "scale": {"domain": ["w/o NLE","1ch RNN","3ch RNN","1ch DBP-1 StPSp","1ch DBP-2 StPSp","1ch DBP-6 StpSp"], "range": ["#333333","#7310DC","#8C6508","#1EFF1E","#FF1EFF","#7F0000"]}, "legend": null}, "shape": {"field": "series", "type": "nominal", "scale": {"domain": ["w/o NLE","1ch RNN","3ch RNN","1ch DBP-1 StPSp","1ch DBP-2 StPSp","1ch DBP-6 StpSp"], "range": ["M-0.75,-0.75H0.75V0.75H-0.75Z","M-1,0A1,1 0 1 1 1,0A1,1 0 1 1 -1,0Z","M-1,0A1,1 0 1 1 1,0A1,1 0 1 1 -1,0Z","M-1.3,0L0,-1.3L1.3,0L0,1.3Z","M-1.3,0L0,-1.3L1.3,0L0,1.3Z","M-1.3,0L0,-1.3L1.3,0L0,1.3Z"]}, "legend": null}}}
     ],
     "resolve": {"scale": {"shape": "independent"}}
    }
   ]
  }
]
}
